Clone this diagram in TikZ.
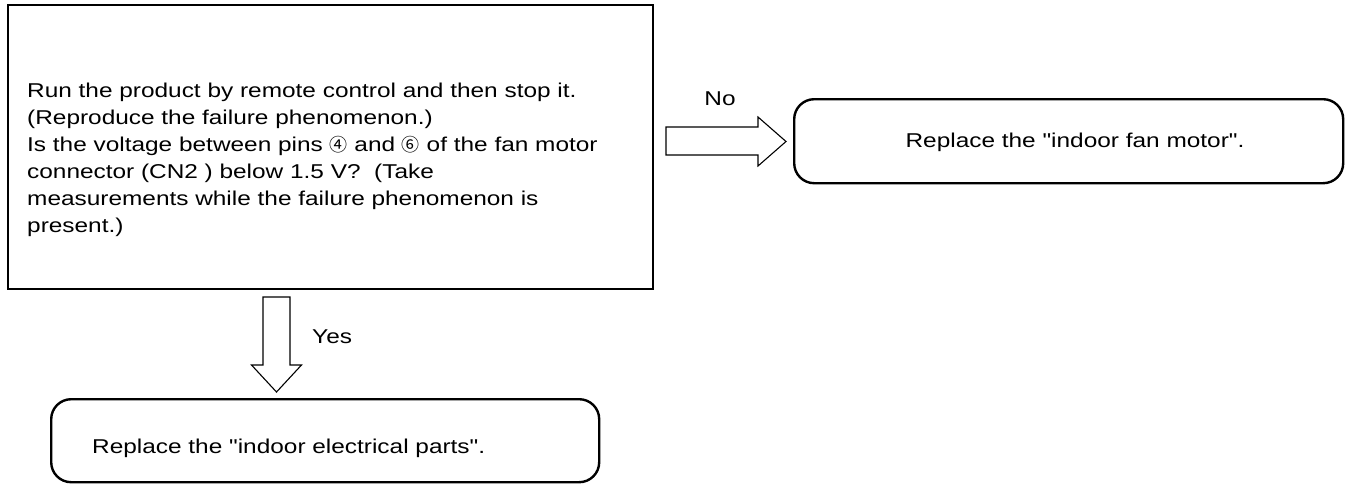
\documentclass[tikz,border=0pt]{standalone}
\usepackage{fontspec}
\setmainfont{Liberation Sans}[FakeStretch=1.22,Ligatures=TeXOff]
\newfontfamily\circfont{Noto Sans CJK JP}
\newcommand\circd[1]{{\circfont\fontsize{18}{27}\selectfont #1}}
\begin{document}
\begin{tikzpicture}[x=1pt,y=-1pt,
  mainbox/.style={draw=black,line width=1.6pt,inner sep=0pt,anchor=north west},
  roundbox/.style={draw=black,line width=2.4pt,rounded corners=20pt,inner sep=0pt,anchor=north west},
  blockarrow/.style={draw=black,line width=1.1pt,fill=white,line join=miter},
  txt/.style={inner sep=0pt,font=\fontsize{20}{27}\selectfont}]
\useasboundingbox (0,0) rectangle (1350,483);
% boxes
\node[mainbox,minimum width=645pt,minimum height=284pt] (main) at (7,4) {};
\node[roundbox,minimum width=549pt,minimum height=84pt] (fan) at (793,98) {};
\node[roundbox,minimum width=548pt,minimum height=83pt] (elec) at (50,398) {};
% texts
\node[txt,anchor=base west] (maintext) at (27,97) {\parbox[t]{620pt}{\raggedright
Run the product by remote control and then stop it.\\
(Reproduce the failure phenomenon.)\\
Is the voltage between pins \circd{④} and \circd{⑥} of the fan motor\\
connector (CN2\,\,) below 1.5 V?\ \ (Take\\
measurements while the failure phenomenon is\\
present.)}};
\node[txt,anchor=base] (fantext) at (1075,147) {Replace the "indoor fan motor".};
\node[txt,anchor=base west] (electext) at (92,453) {Replace the "indoor electrical parts".};
% block arrows
\draw[blockarrow] (666,127) -- (758,127) -- (758,117) -- (786,141.5) -- (758,166) -- (758,155) -- (666,155) -- cycle;
\draw[blockarrow] (263,297) -- (290,297) -- (290,365) -- (301.5,365) -- (276.5,392) -- (251.5,365) -- (263,365) -- cycle;
% labels
\node[txt,anchor=base] (nolabel) at (720,105) {No};
\node[txt,anchor=base west] (yeslabel) at (312,343) {Yes};
\end{tikzpicture}
\end{document}
